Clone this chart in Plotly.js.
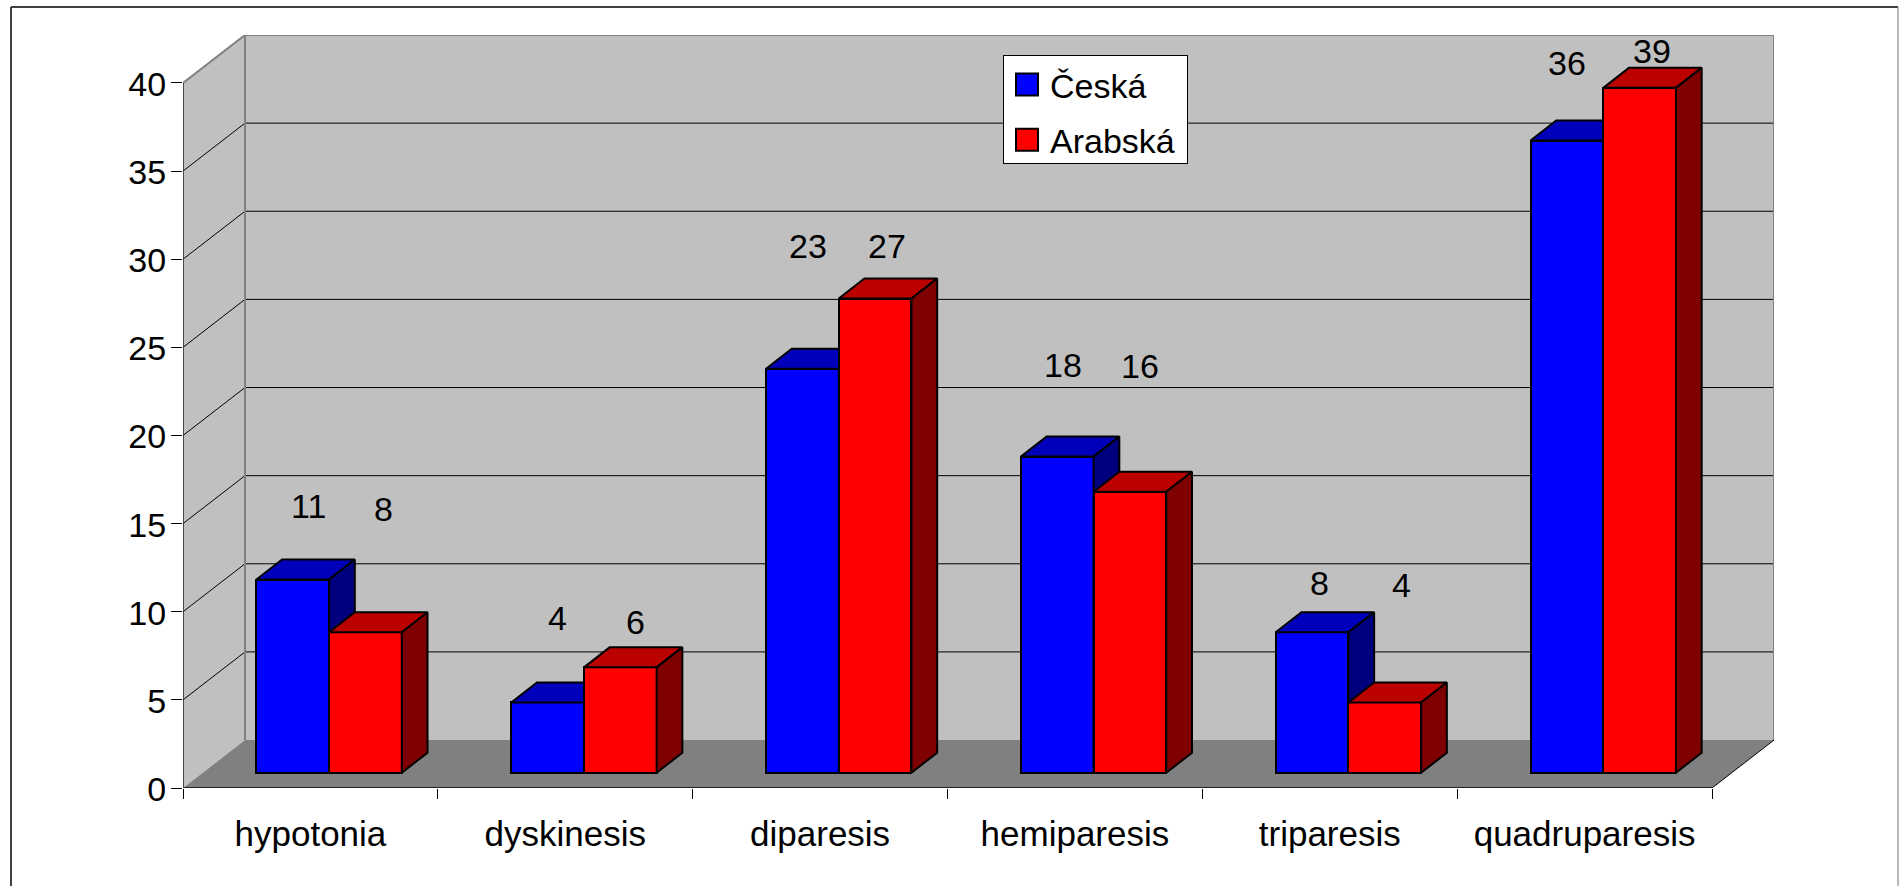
<!DOCTYPE html>
<html><head><meta charset="utf-8">
<script src="https://cdn.plot.ly/plotly-3.0.1.min.js"></script>
<style>html,body{margin:0;padding:0;background:#fff;overflow:hidden}#c{width:1899px;height:886px}</style>
</head><body><div id="c"></div>
<script>
const categories = ["hypotonia","dyskinesis","diparesis","hemiparesis","triparesis","quadruparesis"];
const ceska = [11,4,23,18,8,36];
const arabska = [8,6,27,16,4,39];
const tickVals = [0,5,10,15,20,25,30,35,40];
// hand-placed data labels in the reference: pixel shift from each bar's top centre
const ceskaLabelDx = [16,10,6,6,7,0];
const ceskaLabelLift = [73,84,121,90,49,75];
const arabskaLabelDx = [18,15,12,10,17,12];
const arabskaLabelLift = [123,45,51,125,117,34];

// 3-D look, in axis units
const wallDx = 0.2433, wallDy = 2.72;
const depthDx = 0.1009, depthDy = 1.139;
const baseLift = 0.871, barW = 0.2853, barStart = 0.288;
const barRangeTop = 42.88; // the bars' own value scale runs very slightly tighter than the walls'
const FS = 34, FONT = 'Arial, "Liberation Sans", sans-serif';

function barLeft(i, s){ return i + barStart + s*barW; }
function polys(vals, s, face){
  const xs=[], ys=[];
  vals.forEach((v,i)=>{
    const l=barLeft(i,s), r=l+barW, t=baseLift+v, b=baseLift;
    const p = face==='top'
      ? [[l,t],[r,t],[r+depthDx,t+depthDy],[l+depthDx,t+depthDy],[l,t]]
      : [[r,b],[r+depthDx,b+depthDy],[r+depthDx,t+depthDy],[r,t],[r,b]];
    p.forEach(q=>{xs.push(q[0]);ys.push(q[1]);});
    xs.push(null);ys.push(null);
  });
  return {x:xs,y:ys};
}
function faces(vals,s,topCol,sideCol,xa,ya,name){
  return ['top','side'].map(f=>Object.assign(polys(vals,s,f),{
    type:'scatter',mode:'lines',fill:'toself',fillcolor:f==='top'?topCol:sideCol,
    line:{color:'#000',width:2},xaxis:xa,yaxis:ya,showlegend:false,hoverinfo:'skip',name:name+' '+f}));
}
function bars(vals,s,col,xa,ya,name){
  return {type:'bar',name:name,legendgroup:name,x:vals.map((v,i)=>barLeft(i,s)+barW/2),y:vals,base:baseLift,width:barW,
    marker:{color:col,line:{color:'#000',width:2}},xaxis:xa,yaxis:ya,hoverinfo:'x+y'};
}
const data=[
  bars(ceska,0,'#0000FF','x2','y2','Česká'),
  ...faces(ceska,0,'#0000BB','#00007F','x2','y2','Česká'),
  bars(arabska,1,'#FF0000','x3','y3','Arabská'),
  ...faces(arabska,1,'#BB0000','#7F0000','x3','y3','Arabská')
];
const maxVal=40, nCat=categories.length;
const gray='#808080';
function path(pts){return 'M'+pts.map(p=>p[0]+','+p[1]).join('L')+'Z';}
function seg(x0,y0,x1,y1,color,width){return {type:'line',xref:'x',yref:'y',x0,y0,x1,y1,layer:'below',line:{color,width}};}
const shapes=[
  {type:'path',xref:'x',yref:'y',layer:'below',path:path([[wallDx,wallDy],[nCat+wallDx,wallDy],[nCat+wallDx,maxVal+wallDy],[wallDx,maxVal+wallDy]]),fillcolor:'#C0C0C0',line:{width:0}},
  {type:'path',xref:'x',yref:'y',layer:'below',path:path([[0,0],[wallDx,wallDy],[wallDx,maxVal+wallDy],[0,maxVal]]),fillcolor:'#C0C0C0',line:{width:0}},
  {type:'path',xref:'x',yref:'y',layer:'below',path:path([[0,0],[wallDx,wallDy],[nCat+wallDx,wallDy],[nCat,0]]),fillcolor:gray,line:{width:0}},
];
tickVals.filter(v=>v>0&&v<maxVal).forEach(v=>{
  shapes.push(seg(0,v,wallDx,v+wallDy,'#000',1));
  shapes.push(seg(wallDx,v+wallDy,nCat+wallDx,v+wallDy,'#000',1));
});
shapes.push(
  seg(wallDx,wallDy,wallDx,maxVal+wallDy,gray,2),
  seg(wallDx,maxVal+wallDy,nCat+wallDx,maxVal+wallDy,gray,2),
  seg(nCat+wallDx,wallDy,nCat+wallDx,maxVal+wallDy,gray,2),
  seg(0,maxVal,wallDx,maxVal+wallDy,gray,2),
  seg(nCat,0,nCat+wallDx,wallDy,'#000',1),
  seg(0,0,0,maxVal,'#222',1.5),
  seg(0,0,nCat,0,'#222',2)
);
// outer frame of the picture
const W=1899,H=886,ml=183,mr=125,mt=35,mb=98,pw=W-ml-mr,ph=H-mt-mb;
const fx=p=>(p-ml)/pw, fy=p=>(H-mb-p)/ph;
function frame(x0,y0,x1,y1,color,width){return {type:'line',xref:'paper',yref:'paper',x0:fx(x0),y0:fy(y0),x1:fx(x1),y1:fy(y1),line:{color,width},layer:'above'};}
shapes.push(frame(11,7,1898,7,'#404040',2),frame(11,7,11,886,'#404040',2),frame(1898,7,1898,886,'#707070',1));

const annotations=[];
function labels(vals,s,dxs,lifts){
  vals.forEach((v,i)=>annotations.push({xref:'x',yref:'y',x:barLeft(i,s)+barW/2,y:baseLift+v,text:String(v),showarrow:false,
    xanchor:'center',yanchor:'middle',xshift:dxs[i],yshift:lifts[i],font:{family:FONT,size:FS,color:'#000'}}));
}
labels(ceska,0,ceskaLabelDx,ceskaLabelLift);
labels(arabska,1,arabskaLabelDx,arabskaLabelLift);

const xr=[0,nCat+wallDx], yr=[0,maxVal+wallDy], yrBars=[0,barRangeTop];
const layout={
  width:W,height:H,margin:{l:ml,r:mr,t:mt,b:mb,pad:0},paper_bgcolor:'#fff',plot_bgcolor:'rgba(0,0,0,0)',
  barmode:'overlay',bargap:0,font:{family:FONT,size:FS,color:'#000'},
  xaxis:{range:xr,showgrid:false,zeroline:false,showline:false,fixedrange:true,tickmode:'array',
    tickvals:categories.map((c,i)=>i+0.5),ticktext:categories,ticks:'',ticklabelstandoff:22,
    minor:{tickmode:'array',tickvals:categories.map((c,i)=>i).concat([nCat]),ticks:'outside',ticklen:10,tickwidth:1,tickcolor:'#000',showgrid:false},
    tickfont:{family:FONT,size:35,color:'#000'}},
  yaxis:{range:yr,showgrid:false,zeroline:false,showline:false,fixedrange:true,tickmode:'array',tickvals:tickVals,
    ticks:'outside',ticklen:11,tickwidth:1,tickcolor:'#000',ticklabelstandoff:-2,ticklabelshift:1,tickfont:{family:FONT,size:FS,color:'#000'}},
  xaxis2:{range:xr,visible:false,fixedrange:true,overlaying:'x',anchor:'y2'},
  yaxis2:{range:yrBars,visible:false,fixedrange:true,overlaying:'y',anchor:'x2'},
  xaxis3:{range:xr,visible:false,fixedrange:true,overlaying:'x',anchor:'y3'},
  yaxis3:{range:yrBars,visible:false,fixedrange:true,overlaying:'y',anchor:'x3'},
  legend:{x:fx(1003),y:fy(55),xanchor:'left',yanchor:'top',bgcolor:'#fff',bordercolor:'#000',borderwidth:1,
    font:{family:FONT,size:FS,color:'#000'},itemwidth:36,tracegroupgap:8,traceorder:'grouped',itemclick:false,itemdoubleclick:false},
  shapes,annotations
};
function tweakLegend(gd){
  // swatches in the reference are bigger than Plotly's default, and the box is a fixed size
  gd.querySelectorAll('.legend .legendpoints path').forEach(p=>{
    p.setAttribute('d','M11,11H-11V-11H11Z');
    p.style.strokeWidth='2px';
  });
  const bg=gd.querySelector('.legend .bg');
  if(bg){bg.setAttribute('width','184');bg.setAttribute('height','108');}
}
Plotly.newPlot('c',data,layout,{displayModeBar:false}).then(gd=>{
  tweakLegend(gd);
  setTimeout(()=>tweakLegend(gd),0);
});
</script></body></html>
